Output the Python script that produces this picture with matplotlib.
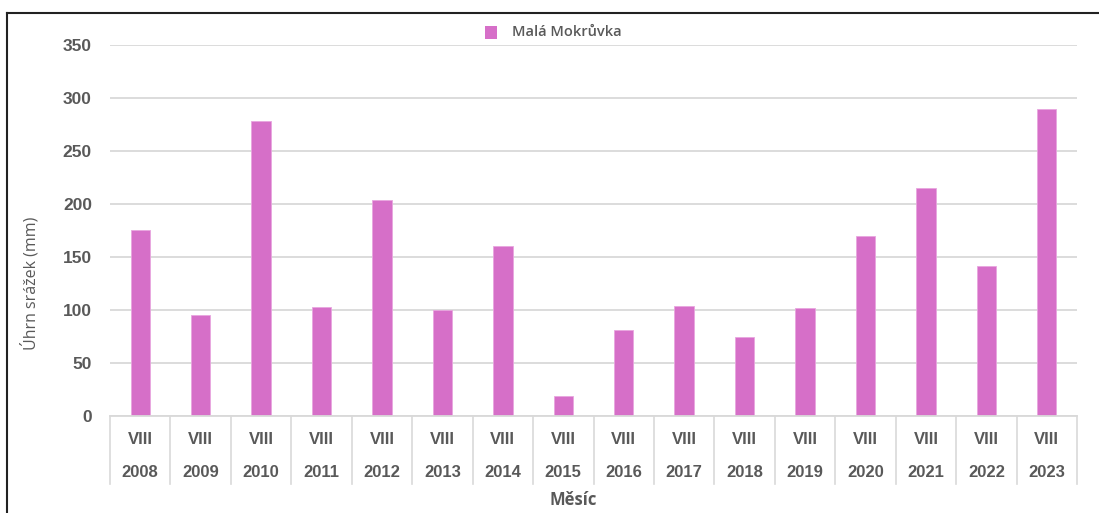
import matplotlib
matplotlib.use("Agg")
import matplotlib.pyplot as plt
from matplotlib.lines import Line2D
from matplotlib.patches import Rectangle

years = ["2008", "2009", "2010", "2011", "2012", "2013", "2014", "2015",
         "2016", "2017", "2018", "2019", "2020", "2021", "2022", "2023"]
months = ["VIII"] * 16
values = [176, 96, 279, 103, 204, 100, 161, 19,
          81, 104, 75, 102, 170, 215, 142, 290]
yticks = [0, 50, 100, 150, 200, 250, 300, 350]
series_name = "Malá Mokrůvka"
ylabel = "Úhrn srážek (mm)"
xlabel = "Měsíc"

W, H = 1099, 513
BAR = "#D66FC8"
TXT = "#595959"
GRID = "#D9D9D9"

fig = plt.figure(figsize=(W / 100, H / 100), dpi=100)
fig.patch.set_facecolor("white")

x0, x1 = 110, 1077
ytop, ybot = 45.3, 416.3
ax = fig.add_axes([x0 / W, (H - ybot) / H, (x1 - x0) / W, (ybot - ytop) / H])

pos = list(range(len(values)))
ax.bar(pos, values, width=0.32, color=BAR, edgecolor="#E8A6DF", linewidth=0.6, zorder=3)
ax.set_xlim(-0.5, len(values) - 0.5)
ax.set_ylim(0, 350)
ax.set_yticks(yticks)
ax.set_yticklabels([str(v) for v in yticks], fontfamily="Liberation Sans",
                   fontweight="bold", fontsize=12.5, color=TXT)
ax.tick_params(axis="y", length=0, pad=13)
ax.tick_params(axis="x", length=0, labelbottom=False)
ax.grid(axis="y", color=GRID, linewidth=1.3, zorder=0)
for s in ["top", "right", "left"]:
    ax.spines[s].set_visible(False)
ax.spines["bottom"].set_color(GRID)
ax.spines["bottom"].set_linewidth(1.3)
ax.spines["bottom"].set_zorder(4)

# multi-level category axis
ph = ybot - ytop
trans = ax.get_xaxis_transform()
sep_bottom = -(484 - ybot) / ph
for i in range(len(values) + 1):
    ax.add_line(Line2D([i - 0.5, i - 0.5], [0, sep_bottom], transform=trans,
                       color=GRID, linewidth=1.2, clip_on=False))
for i, (m, yr) in enumerate(zip(months, years)):
    ax.text(i, -(439.5 - ybot) / ph, m, transform=trans, ha="center", va="center",
            fontfamily="Liberation Sans", fontweight="bold", fontsize=12, color=TXT)
    ax.text(i, -(472.5 - ybot) / ph, yr, transform=trans, ha="center", va="center",
            fontfamily="Liberation Sans", fontweight="bold", fontsize=12, color=TXT)

# axis titles
fig.text(30 / W, 1 - 283 / H, ylabel, rotation=90, ha="center", va="center",
         fontfamily="Open Sans", fontweight="medium", fontsize=11.5, color=TXT)
fig.text(573.5 / W, 1 - 500 / H, xlabel, ha="center", va="center",
         fontfamily="Open Sans", fontweight="bold", fontsize=12, color=TXT)

# legend
fig.patches.append(Rectangle((485 / W, 1 - 39 / H), 12.5 / W, 12.5 / H,
                             transform=fig.transFigure, facecolor=BAR,
                             edgecolor="none"))
fig.text(512 / W, 1 - 32.5 / H, series_name, ha="left", va="center",
         fontfamily="Open Sans", fontweight="semibold", fontsize=10.5, color=TXT)

# outer frame (partially cropped)
fig.add_artist(Line2D([7.3 / W, 7.3 / W], [0, 1 - 13.3 / H], transform=fig.transFigure,
                      color="#222222", linewidth=1.5))
fig.add_artist(Line2D([7.3 / W, 1], [1 - 13.3 / H, 1 - 13.3 / H], transform=fig.transFigure,
                      color="#222222", linewidth=1.5))

fig.savefig("out.png", dpi=100)
